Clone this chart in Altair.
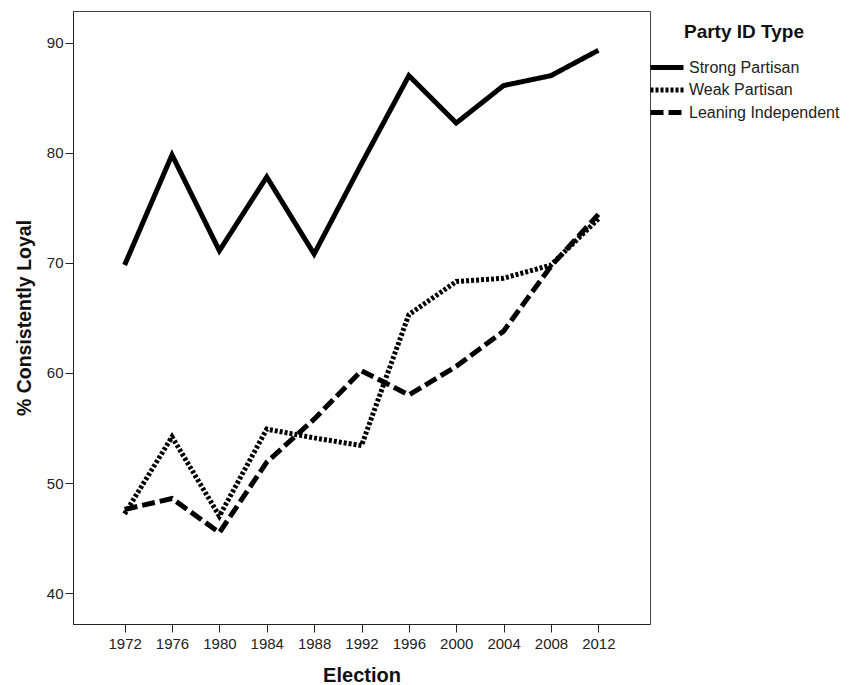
import altair as alt
import pandas as pd

years = [1972, 1976, 1980, 1984, 1988, 1992, 1996, 2000, 2004, 2008, 2012]
strong = [69.8, 79.8, 71.1, 77.8, 70.8, 79.0, 87.0, 82.7, 86.1, 87.0, 89.3]
weak = [47.2, 54.2, 47.0, 54.9, 54.1, 53.4, 65.3, 68.3, 68.6, 69.8, 74.0]
leaning = [47.6, 48.6, 45.5, 51.9, 55.8, 60.2, 58.0, 60.6, 63.8, 69.7, 74.4]

series_names = ["Strong Partisan", "Weak Partisan", "Leaning Independent"]
dashes = [[1, 0], [3, 2], [13, 5]]

rows = []
for name, vals in zip(series_names, [strong, weak, leaning]):
    for y, v in zip(years, vals):
        rows.append({"Election": y, "Value": v, "Type": name})
df = pd.DataFrame(rows)

FONT = "Liberation Sans"

chart = alt.Chart(df).mark_line(strokeWidth=5, color="black", strokeCap="butt", strokeJoin="miter").encode(
    x=alt.X("Election:Q",
            scale=alt.Scale(domain=[1967.64, 2016.36], nice=False, zero=False),
            axis=alt.Axis(values=years, format="d", title="Election", grid=False,
                          tickSize=8, labelPadding=4, titlePadding=14,
                          labelFontSize=15, titleFontSize=20, titleFontWeight="bold",
                          labelColor="#222", titleColor="#111",
                          domainColor="#222", tickColor="#222")),
    y=alt.Y("Value:Q",
            scale=alt.Scale(domain=[37.2, 92.87], nice=False, zero=False),
            axis=alt.Axis(values=[40, 50, 60, 70, 80, 90], title="% Consistently Loyal", grid=False,
                          tickSize=8, labelPadding=2, titlePadding=12,
                          labelFontSize=15, titleFontSize=19.5, titleFontWeight="bold",
                          labelColor="#222", titleColor="#111",
                          domainColor="#222", tickColor="#222")),
    strokeDash=alt.StrokeDash("Type:N",
                              scale=alt.Scale(domain=series_names, range=dashes),
                              sort=series_names,
                              legend=alt.Legend(title="Party ID Type", orient="none",
                                                legendX=575, legendY=12,
                                                titleFontSize=19, titleFontWeight="bold",
                                                titleAnchor="middle", titlePadding=17.5,
                                                titleColor="#111",
                                                labelFontSize=16, labelColor="#222",
                                                symbolType="M-1,0H5", symbolSize=121,
                                                symbolStrokeWidth=5, symbolStrokeColor="black",
                                                symbolFillColor="transparent",
                                                labelOffset=25, rowPadding=2.5)),
).properties(
    width=577, height=613,
    padding={"left": 6, "top": 3, "right": 0, "bottom": 5},
).configure(
    font=FONT,
).configure_view(
    stroke="#444", strokeWidth=1,
)

chart.save("out.html", embed_options={"renderer": "svg", "actions": False})
